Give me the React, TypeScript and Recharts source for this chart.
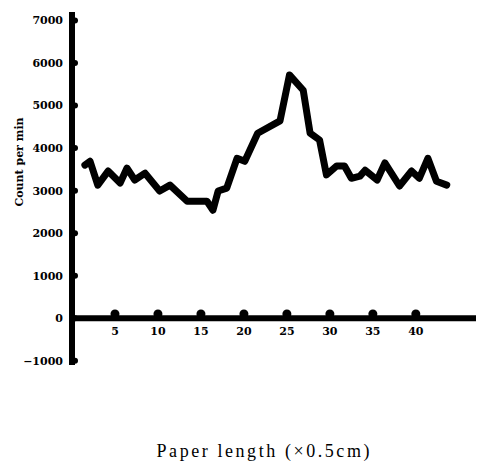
import React from 'react';
import { LineChart, Line, XAxis, YAxis, ReferenceLine, ReferenceDot } from 'recharts';

const paperLength = [1.5, 2.1, 3, 4.2, 5.6, 6.4, 7.3, 8.5, 10.2, 11.4, 13.4, 15.7, 16.4, 17, 18, 19.2, 20.1, 21.6, 24.2, 25.3, 26.9, 27.7, 28.8, 29.6, 30.8, 31.7, 32.5, 33.5, 34.1, 35.5, 36.4, 38.1, 39.5, 40.4, 41.4, 42.4, 43.6];
const countPerMin = [3600, 3690, 3130, 3460, 3180, 3530, 3250, 3410, 2990, 3130, 2750, 2750, 2540, 2990, 3060, 3760, 3690, 4350, 4640, 5720, 5360, 4350, 4190, 3370, 3580, 3580, 3290, 3340, 3480, 3250, 3650, 3110, 3460, 3290, 3760, 3220, 3130];
const xTicks = [5, 10, 15, 20, 25, 30, 35, 40];
const yTicks = [-1000, 0, 1000, 2000, 3000, 4000, 5000, 6000, 7000];

const data = paperLength.map((x, i) => ({ x, y: countPerMin[i] }));

const tickFont = { fill: '#000', fontSize: 11, fontFamily: 'DejaVu Serif', fontWeight: 'bold' as const };

export default function App() {
  return (
    <div style={{ position: 'absolute', left: 0, top: 0, background: '#fff' }}>
      <LineChart width={477} height={463} data={data} margin={{ top: 12, right: 1, bottom: 0, left: 0 }}>
        <XAxis
          dataKey="x"
          type="number"
          domain={[0, 47]}
          allowDataOverflow
          tick={false}
          tickLine={false}
          axisLine={false}
          height={98}
          label={{
            content: (p: any) => {
              const vb = p.viewBox || { x: 72, y: 365 };
              return (
                <text
                  x={vb.x + 191}
                  y={vb.y + 92}
                  textAnchor="middle"
                  textLength={213}
                  lengthAdjust="spacing"
                  style={{ fontFamily: 'Liberation Serif', fontSize: 18, fill: '#000' }}
                >
                  Paper length (×0.5cm)
                </text>
              );
            },
          }}
        />
        <YAxis
          type="number"
          domain={[-1100, 7200]}
          ticks={yTicks}
          allowDataOverflow
          width={72}
          tickLine={false}
          tickSize={6}
          tickMargin={3}
          axisLine={{ stroke: '#000', strokeWidth: 6 }}
          tick={tickFont}
          tickFormatter={(v: number) => (v < 0 ? `−${Math.abs(v)}` : `${v}`)}
          label={{
            content: (p: any) => {
              const vb = p.viewBox || { x: 0, y: 12 };
              const cx = vb.x + 19;
              const cy = vb.y + 150;
              return (
                <text
                  x={cx}
                  y={cy}
                  textAnchor="middle"
                  dominantBaseline="central"
                  transform={`rotate(-90 ${cx} ${cy})`}
                  style={{ fontFamily: 'DejaVu Serif', fontSize: 11, fontWeight: 'bold', fill: '#000' }}
                >
                  Count per min
                </text>
              );
            },
          }}
        />
        <ReferenceLine y={0} stroke="#000" strokeWidth={6} ifOverflow="visible" />
        {yTicks.map((t) => (
          <ReferenceDot key={`y${t}`} x={0.35} y={t} r={3} fill="#000" stroke="none" ifOverflow="visible" />
        ))}
        {xTicks.map((t) => (
          <ReferenceDot
            key={`x${t}`}
            x={t}
            y={100}
            r={4.5}
            fill="#000"
            stroke="none"
            ifOverflow="visible"
            label={{ value: `${t}`, position: 'bottom', offset: 9, fill: '#000', fontSize: 11, fontFamily: 'DejaVu Serif', fontWeight: 'bold' }}
          />
        ))}
        <Line
          type="linear"
          dataKey="y"
          stroke="#000"
          strokeWidth={7}
          strokeLinejoin="round"
          strokeLinecap="round"
          dot={false}
          activeDot={false}
          isAnimationActive={false}
        />
      </LineChart>
    </div>
  );
}
